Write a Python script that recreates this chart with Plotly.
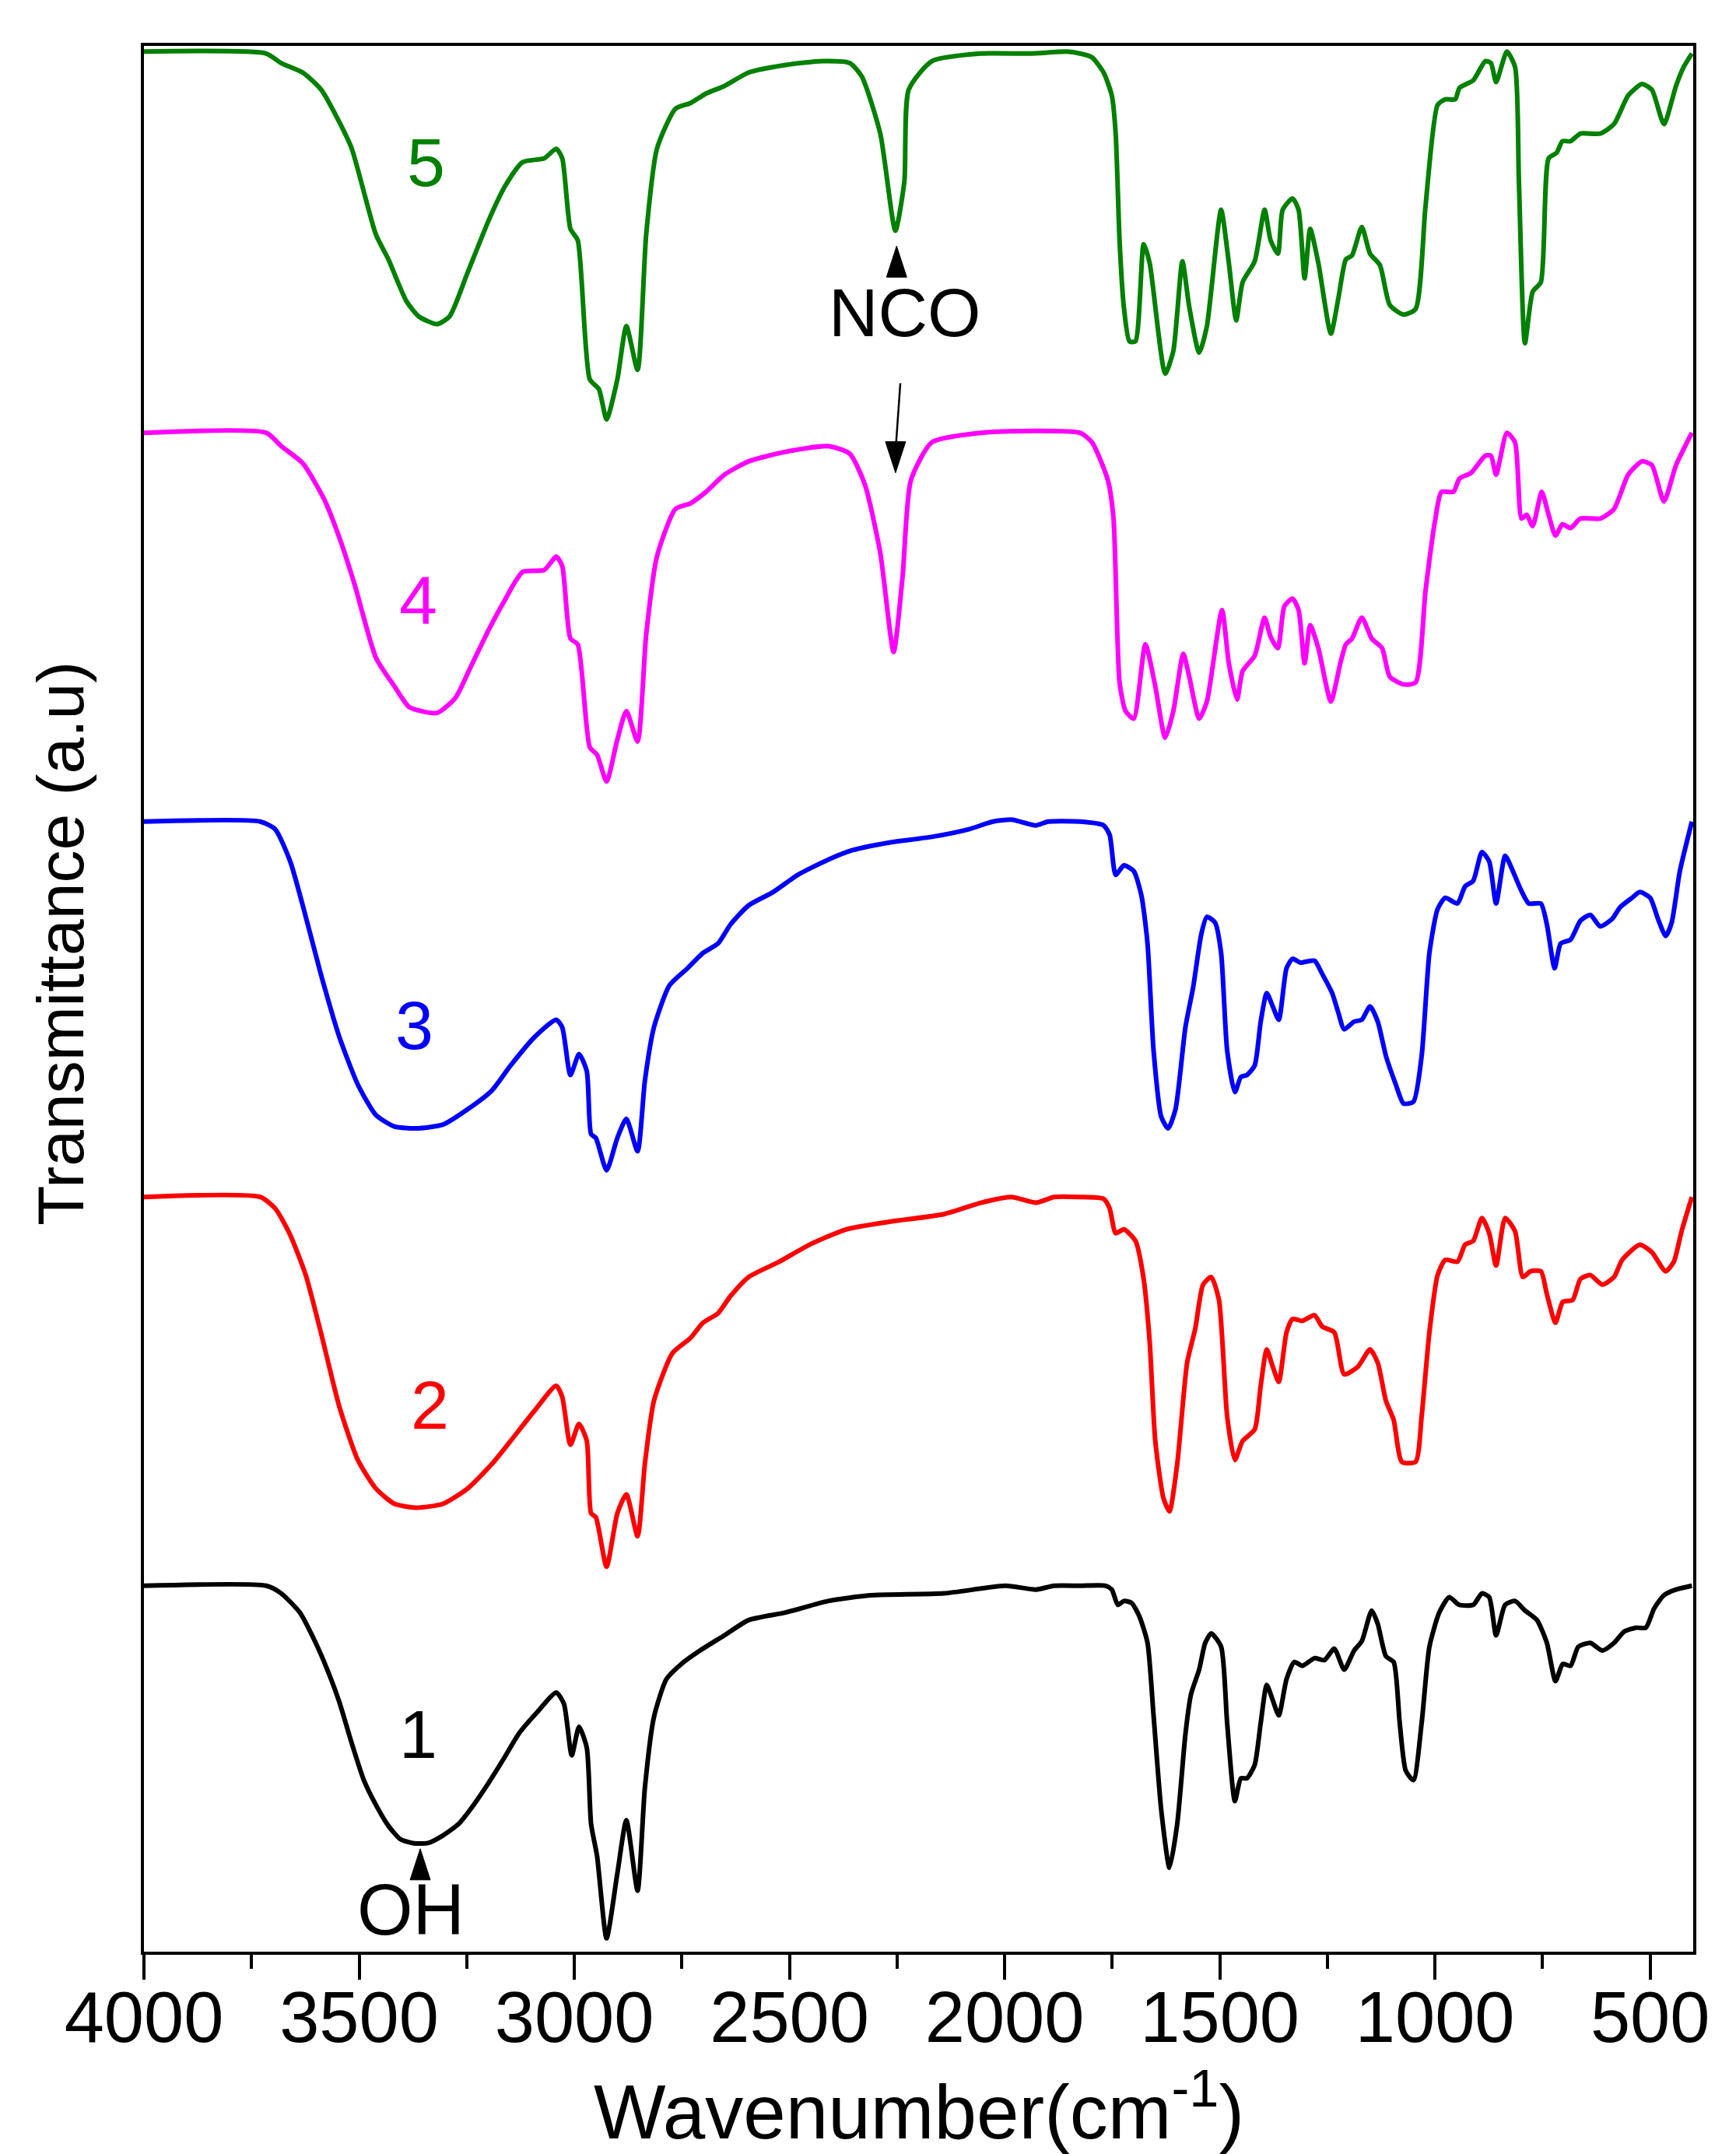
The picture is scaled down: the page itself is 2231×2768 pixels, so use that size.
import plotly.graph_objects as go

# ---------------- data ----------------
wn_5 = [4000, 3716, 3681, 3631, 3588, 3546, 3517, 3461, 3432, 3390, 3361, 3319, 3290, 3248, 3198, 3162,
        3120, 3070, 3042, 3028, 3009, 2992, 2964, 2943, 2925, 2900, 2879, 2853, 2833, 2808, 2765, 2730,
        2694, 2651, 2595, 2509, 2424, 2360, 2332, 2289, 2254, 2233, 2223, 2169, 2055, 1941, 1856, 1825,
        1797, 1770, 1751, 1742, 1733, 1723, 1710, 1696, 1677, 1663, 1627, 1608, 1587, 1571, 1548, 1530,
        1497, 1479, 1462, 1447, 1419, 1396, 1382, 1365, 1354, 1331, 1317, 1303, 1290, 1271, 1242, 1225,
        1207, 1193, 1170, 1151, 1128, 1105, 1073, 1045, 1022, 994, 976, 953, 943, 911, 883, 870, 858,
        833, 814, 805, 791, 773, 754, 736, 717, 704, 685, 662, 616, 584, 551, 519, 496, 468, 440, 422, 403]
t_5 = [99.7, 99.6, 99.1, 98.6, 97.7, 96.0, 94.6, 90.1, 88.8, 86.6, 85.8, 85.4, 85.8, 88.1, 90.9, 92.6,
       93.9, 94.1, 94.6, 94.1, 90.4, 89.8, 82.5, 82.0, 80.4, 82.5, 85.3, 83.0, 90.1, 94.6, 96.7, 97.0,
       97.5, 97.9, 98.6, 99.0, 99.2, 99.1, 98.4, 95.4, 90.3, 92.9, 97.7, 99.2, 99.6, 99.6, 99.7, 99.6,
       99.4, 98.6, 97.4, 95.4, 89.8, 86.3, 84.5, 84.5, 89.6, 88.6, 82.8, 84.0, 88.7, 86.3, 83.9, 85.3,
       91.4, 88.6, 85.6, 87.6, 88.7, 91.4, 89.8, 89.1, 91.4, 92.0, 91.4, 87.8, 90.4, 88.6, 84.9, 86.7,
       88.8, 89.0, 90.5, 89.1, 88.5, 86.4, 85.9, 86.2, 91.6, 96.9, 97.2, 97.2, 97.8, 98.2, 99.2, 99.1, 98.1,
       99.7, 98.9, 92.9, 84.4, 87.1, 87.6, 94.1, 94.4, 95.0, 95.0, 95.4, 95.4, 95.9, 97.4, 98.0, 97.7, 95.9, 97.9, 98.9, 99.6]

wn_4 = [4000, 3716, 3681, 3631, 3581, 3546, 3510, 3461, 3418, 3383, 3319, 3276, 3241, 3198, 3162, 3120,
        3070, 3042, 3028, 3009, 2992, 2964, 2947, 2925, 2900, 2879, 2853, 2833, 2808, 2765, 2730, 2694,
        2651, 2595, 2509, 2410, 2360, 2325, 2289, 2258, 2237, 2218, 2169, 2055, 1927, 1825, 1797, 1760,
        1747, 1733, 1719, 1700, 1673, 1650, 1627, 1608, 1585, 1571, 1548, 1530, 1495, 1479, 1460, 1447,
        1419, 1396, 1382, 1365, 1350, 1331, 1317, 1303, 1290, 1271, 1242, 1220, 1207, 1193, 1170, 1147,
        1123, 1105, 1073, 1045, 1022, 999, 985, 957, 943, 916, 883, 870, 858, 833, 814, 799, 787, 773,
        752, 736, 720, 704, 685, 662, 616, 584, 551, 519, 496, 468, 440, 403]
t_4 = [79.7, 79.7, 79.0, 78.1, 76.2, 74.2, 71.7, 67.9, 66.4, 65.3, 65.0, 65.8, 67.4, 69.4, 70.9, 72.4,
       72.5, 73.2, 72.7, 68.9, 68.6, 63.2, 62.8, 61.4, 63.6, 65.1, 63.5, 69.1, 73.2, 75.7, 76.0, 76.6,
       77.5, 78.2, 78.7, 79.0, 78.6, 77.0, 73.4, 68.2, 72.2, 77.2, 79.2, 79.7, 79.8, 79.7, 79.2, 77.2,
       75.2, 66.6, 65.1, 64.7, 68.6, 66.4, 63.7, 65.1, 68.1, 66.9, 64.7, 65.6, 70.4, 67.6, 65.7, 67.2,
       68.0, 70.0, 69.0, 68.4, 70.6, 71.0, 70.4, 67.6, 69.6, 68.4, 65.6, 67.6, 68.6, 68.9, 70.0, 68.9,
       68.4, 66.9, 66.5, 66.6, 71.4, 75.2, 76.6, 76.6, 77.3, 77.6, 78.5, 78.5, 77.5, 79.7, 79.2, 75.2, 75.4, 74.8,
       76.6, 75.4, 74.3, 74.9, 74.7, 75.2, 75.2, 75.7, 77.5, 78.2, 78.0, 76.1, 78.0, 79.7]

wn_3 = [4000, 3730, 3695, 3660, 3631, 3589, 3546, 3503, 3461, 3418, 3368, 3305, 3248, 3191, 3148, 3092,
        3042, 3028, 3009, 2989, 2971, 2961, 2950, 2925, 2900, 2879, 2853, 2836, 2815, 2779, 2737, 2701,
        2666, 2637, 2595, 2538, 2481, 2410, 2353, 2268, 2169, 2083, 2027, 1984, 1927, 1899, 1825, 1770,
        1756, 1742, 1723, 1700, 1682, 1668, 1654, 1636, 1620, 1603, 1580, 1562, 1543, 1530, 1511, 1497,
        1483, 1465, 1451, 1437, 1419, 1405, 1391, 1377, 1363, 1345, 1331, 1313, 1280, 1262, 1239, 1225,
        1211, 1188, 1170, 1151, 1133, 1114, 1091, 1073, 1050, 1031, 1013, 994, 976, 948, 930, 911, 891,
        874, 858, 837, 819, 800, 782, 754, 740, 722, 708, 685, 662, 639, 616, 588, 570, 542, 524, 500,
        482, 464, 450, 431, 403]
t_3 = [59.3, 59.3, 58.9, 57.2, 54.9, 51.3, 48.0, 45.5, 43.9, 43.3, 43.2, 43.4, 44.2, 45.2, 46.5, 48.0,
       48.9, 48.5, 46.0, 47.1, 46.2, 42.9, 42.7, 41.0, 42.7, 43.7, 42.0, 45.7, 48.5, 50.7, 51.6, 52.4,
       52.9, 53.9, 54.9, 55.6, 56.5, 57.3, 57.8, 58.2, 58.5, 58.9, 59.3, 59.4, 59.1, 59.3, 59.3, 59.1,
       58.6, 56.5, 57.0, 56.7, 55.4, 52.9, 47.3, 43.8, 43.2, 44.2, 48.5, 50.6, 53.4, 54.3, 54.0, 52.4,
       47.3, 45.1, 45.9, 46.0, 46.5, 48.8, 50.3, 49.6, 48.9, 51.6, 52.1, 51.9, 52.0, 51.3, 50.3, 49.3,
       48.4, 48.8, 48.9, 49.6, 48.8, 47.0, 45.5, 44.5, 44.6, 47.0, 52.4, 54.7, 55.3, 55.0, 55.9, 56.2, 57.7,
       57.2, 55.0, 57.5, 56.7, 55.7, 55.0, 55.0, 53.9, 51.6, 52.9, 53.1, 54.1, 54.4, 53.8, 54.2, 54.8, 55.3, 55.6, 55.3,
       54.2, 53.3, 54.0, 56.7, 59.3]

wn_2 = [4000, 3730, 3695, 3660, 3624, 3589, 3546, 3503, 3461, 3418, 3368, 3305, 3248, 3191, 3148, 3092,
        3042, 3028, 3009, 2989, 2971, 2961, 2950, 2925, 2900, 2879, 2853, 2836, 2815, 2772, 2730, 2701,
        2666, 2637, 2595, 2524, 2453, 2368, 2268, 2141, 2055, 1984, 1927, 1885, 1825, 1770, 1756, 1742,
        1723, 1696, 1677, 1663, 1650, 1631, 1617, 1599, 1576, 1557, 1539, 1520, 1502, 1483, 1465, 1447,
        1419, 1405, 1391, 1377, 1363, 1345, 1331, 1308, 1280, 1262, 1234, 1211, 1179, 1151, 1133, 1114,
        1096, 1077, 1045, 1031, 1013, 994, 976, 948, 930, 911, 891, 874, 858, 837, 814, 796, 778, 754,
        740, 720, 703, 680, 662, 639, 611, 584, 565, 524, 496, 464, 445, 427, 403]
t_2 = [39.6, 39.6, 39.0, 37.6, 35.5, 32.5, 28.6, 25.8, 24.3, 23.5, 23.3, 23.5, 24.3, 25.6, 26.8, 28.4,
       29.7, 29.1, 26.6, 27.7, 26.8, 23.0, 22.8, 20.2, 23.0, 24.0, 21.8, 25.6, 28.9, 31.4, 32.2, 33.0,
       33.5, 34.4, 35.4, 36.2, 37.1, 37.9, 38.3, 38.7, 39.3, 39.6, 39.3, 39.6, 39.6, 39.5, 39.0, 37.7,
       37.9, 37.3, 35.3, 32.0, 26.8, 23.8, 23.1, 25.6, 30.9, 32.7, 35.0, 35.4, 34.2, 28.1, 25.8, 26.8,
       27.4, 29.7, 31.6, 30.7, 29.9, 32.5, 33.2, 33.1, 33.4, 32.8, 32.5, 30.3, 30.7, 31.6, 30.9, 28.9,
       27.9, 25.7, 25.7, 28.1, 32.5, 35.5, 36.3, 36.2, 37.1, 37.3, 38.5, 37.7, 36.0, 38.5, 37.8, 35.4, 35.7, 35.7,
       34.5, 33.0, 34.1, 34.2, 35.3, 35.5, 35.0, 35.4, 36.3, 37.1, 36.7, 35.7, 36.2, 37.8, 39.6]

wn_1 = [4000, 3716, 3681, 3638, 3603, 3574, 3546, 3518, 3489, 3461, 3432, 3404, 3376, 3340, 3305, 3269,
        3234, 3198, 3162, 3127, 3085, 3042, 3024, 3006, 2989, 2971, 2961, 2947, 2925, 2900, 2879, 2853,
        2836, 2815, 2786, 2751, 2708, 2651, 2595, 2509, 2410, 2311, 2141, 1998, 1927, 1885, 1825, 1765,
        1751, 1737, 1723, 1705, 1687, 1668, 1654, 1636, 1617, 1599, 1580, 1567, 1548, 1534, 1520, 1497,
        1483, 1465, 1451, 1437, 1419, 1405, 1391, 1377, 1363, 1345, 1327, 1308, 1280, 1257, 1234, 1211,
        1188, 1170, 1147, 1133, 1114, 1096, 1082, 1068, 1050, 1031, 1013, 990, 967, 944, 911, 891, 874,
        858, 837, 814, 791, 763, 740, 720, 703, 685, 667, 639, 611, 584, 560, 533, 510, 491, 468, 440, 403]
t_1 = [19.2, 19.2, 18.8, 17.8, 16.3, 14.8, 13.1, 11.0, 9.0, 7.7, 6.6, 5.9, 5.7, 5.7, 6.1, 6.7,
       7.7, 8.9, 10.2, 11.5, 12.6, 13.6, 13.0, 10.3, 11.8, 10.7, 6.7, 5.0, 0.7, 4.1, 6.9, 3.2,
       8.6, 12.3, 14.3, 15.1, 15.8, 16.6, 17.4, 17.8, 18.4, 18.7, 18.8, 19.2, 19.0, 19.2, 19.2, 19.2,
       19.0, 18.2, 18.4, 18.3, 17.6, 16.2, 12.4, 7.4, 4.4, 6.7, 11.4, 13.5, 14.8, 16.2, 16.7, 16.0,
       12.0, 7.9, 9.1, 9.1, 9.8, 12.0, 14.0, 13.2, 12.4, 14.3, 15.2, 15.0, 15.4, 15.3, 15.9, 14.8,
       15.8, 16.3, 17.9, 17.2, 15.5, 15.2, 12.0, 9.5, 9.0, 12.0, 16.0, 17.8, 18.6, 18.2, 18.2, 18.8, 18.6,
       16.6, 18.2, 18.4, 17.9, 17.4, 16.2, 14.2, 15.1, 15.0, 16.0, 16.2, 15.8, 16.2, 16.8, 17.0, 17.0, 18.0, 18.7, 19.0, 19.2]

series_names = ["1", "2", "3", "4", "5"]
series_colors = ["#000000", "#FF0000", "#0000FF", "#FF00FF", "#008000"]
series_wn = [wn_1, wn_2, wn_3, wn_4, wn_5]
series_t = [t_1, t_2, t_3, t_4, t_5]

# label positions (wavenumber, transmittance a.u.)
label_wn = [3362, 3336, 3371, 3362, 3345]
label_t = [11.4, 28.7, 48.6, 70.9, 93.9]

x_ticks = [4000, 3500, 3000, 2500, 2000, 1500, 1000, 500]

FONT = "Liberation Sans, Arial, sans-serif"

fig = go.Figure()
for name, col, wn, t in zip(series_names, series_colors, series_wn, series_t):
    fig.add_trace(go.Scatter(x=wn, y=t, mode="lines", name=name,
                             line=dict(color=col, width=6, shape="spline", smoothing=0.6),
                             showlegend=False, hoverinfo="skip"))

annotations = []
for name, col, lw, lt in zip(series_names, series_colors, label_wn, label_t):
    annotations.append(dict(x=lw, y=lt, xref="x", yref="y", text=name, showarrow=False,
                            font=dict(family=FONT, size=88, color=col),
                            xanchor="center", yanchor="middle"))

annotations.append(dict(x=3380, y=2.2, xref="x", yref="y", text="OH", showarrow=False,
                        font=dict(family=FONT, size=92, color="black"), xanchor="center", yanchor="middle"))
annotations.append(dict(x=2231, y=86.0, xref="x", yref="y", text="NCO", showarrow=False,
                        font=dict(family=FONT, size=88, color="black"), xanchor="center", yanchor="middle"))

# axis titles
annotations.append(dict(x=0.5, y=-0.0812, xref="paper", yref="paper",
                        text="Wavenumber(cm<sup>-1</sup>)", showarrow=False,
                        font=dict(family=FONT, size=98, color="black"), xanchor="center", yanchor="middle"))
annotations.append(dict(x=-0.0535, y=0.529, xref="paper", yref="paper",
                        text="Transmittance (a.u)", showarrow=False, textangle=-90,
                        font=dict(family=FONT, size=84, color="black"), xanchor="center", yanchor="middle"))

# arrow heads (pixel-sized triangles anchored at their tips)
def tri(xa, ya, up=True):
    h = 40 if up else -40
    return dict(type="path", xref="x", yref="y", xsizemode="pixel", ysizemode="pixel",
                xanchor=xa, yanchor=ya,
                path=f"M0,0 L-13,{-h} L13,{-h} Z",
                fillcolor="black", line=dict(color="black", width=1))

shapes = [
    tri(3358, 5.4, up=True),       # OH arrow
    tri(2251, 89.5, up=True),      # NCO arrow (top)
    tri(2253.5, 77.6, up=False),   # NCO arrow (bottom)
    dict(type="line", xref="x", yref="y", x0=2242.4, y0=82.3, x1=2253, y1=78.9,
         line=dict(color="black", width=2.5)),
]

fig.update_layout(
    width=2231, height=2768,
    margin=dict(l=177, r=63, t=51, b=268),
    paper_bgcolor="white", plot_bgcolor="white",
    annotations=annotations, shapes=shapes,
    xaxis=dict(range=[4000, 400], tickmode="array", tickvals=x_ticks,
               ticktext=[str(v) for v in x_ticks],
               ticks="outside", ticklen=32, tickwidth=4, tickcolor="black",
               ticklabelstandoff=-30,
               tickfont=dict(family=FONT, size=92, color="black"),
               showline=True, linewidth=4, linecolor="black", mirror=True,
               showgrid=False, zeroline=False,
               minor=dict(tickmode="linear", tick0=0, dtick=250, ticks="outside", ticklen=18,
                          tickwidth=4, tickcolor="black", showgrid=False)),
    yaxis=dict(range=[0, 100], showticklabels=False, ticks="", showline=True, linewidth=4,
               linecolor="black", mirror=True, showgrid=False, zeroline=False),
)

fig.write_html("out.html")
